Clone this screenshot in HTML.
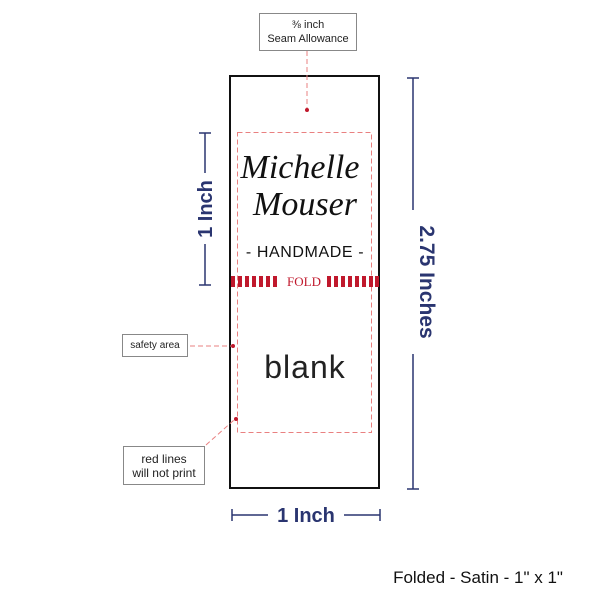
<!DOCTYPE html>
<html><head><style>
body{margin:0;width:600px;height:600px;background:#fff;overflow:hidden;position:relative;font-family:"Liberation Sans",sans-serif}
.a{position:absolute}
.box{position:absolute;border:1px solid #888;background:#fff;font-size:11px;color:#222;text-align:center;line-height:14px;box-sizing:border-box}
</style></head><body>
<svg class="a" style="left:0;top:0" width="600" height="600">
<rect x="230" y="76" width="149" height="412" fill="none" stroke="#111" stroke-width="2"/>
<rect x="237.5" y="132.5" width="134" height="300" fill="none" stroke="#e98080" stroke-width="1" stroke-dasharray="5,3"/>
<g fill="#c0182c">
<rect x="231" y="276" width="4" height="11"/><rect x="238" y="276" width="4" height="11"/><rect x="245" y="276" width="4" height="11"/><rect x="252" y="276" width="4" height="11"/><rect x="259" y="276" width="4" height="11"/><rect x="266" y="276" width="4" height="11"/><rect x="273" y="276" width="4" height="11"/>
<rect x="327" y="276" width="4" height="11"/><rect x="334" y="276" width="4" height="11"/><rect x="341" y="276" width="4" height="11"/><rect x="348" y="276" width="4" height="11"/><rect x="355" y="276" width="4" height="11"/><rect x="362" y="276" width="4" height="11"/><rect x="369" y="276" width="4" height="11"/><rect x="375" y="276" width="4" height="11"/>
</g>
<text x="304" y="286" font-family="Liberation Serif" font-size="13" fill="#c0182c" text-anchor="middle">FOLD</text>
<text x="300" y="178" font-family="Liberation Serif" font-style="italic" font-size="34" fill="#111" text-anchor="middle">Michelle</text>
<text x="305" y="215" font-family="Liberation Serif" font-style="italic" font-size="34" fill="#111" text-anchor="middle">Mouser</text>
<text x="305" y="257" font-size="16" fill="#111" text-anchor="middle" letter-spacing="0.6">- HANDMADE -</text>
<text x="305" y="378" font-size="32" fill="#222" text-anchor="middle" letter-spacing="1">blank</text>
<line x1="307" y1="51" x2="307" y2="110" stroke="#e98080" stroke-dasharray="5,3"/>
<circle cx="307" cy="110" r="2" fill="#c0182c"/>
<line x1="190" y1="346" x2="233" y2="346" stroke="#e98080" stroke-dasharray="5,3"/>
<circle cx="233" cy="346" r="2" fill="#c0182c"/>
<line x1="206" y1="445" x2="234" y2="420" stroke="#e98080" stroke-dasharray="5,3"/>
<circle cx="236" cy="419" r="2" fill="#c0182c"/>
<g stroke="#2a3570" stroke-width="1.5" fill="none">
<line x1="205" y1="133" x2="205" y2="173"/><line x1="199" y1="133" x2="211" y2="133"/>
<line x1="205" y1="244" x2="205" y2="285"/><line x1="199" y1="285" x2="211" y2="285"/>
<line x1="413" y1="78" x2="413" y2="210"/><line x1="407" y1="78" x2="419" y2="78"/>
<line x1="413" y1="354" x2="413" y2="489"/><line x1="407" y1="489" x2="419" y2="489"/>
<line x1="232" y1="515" x2="268" y2="515"/><line x1="232" y1="509" x2="232" y2="521"/>
<line x1="344" y1="515" x2="380" y2="515"/><line x1="380" y1="509" x2="380" y2="521"/>
</g>
<g fill="#2a3570" font-size="20" font-weight="bold">
<text transform="translate(212,209) rotate(-90)" text-anchor="middle">1 Inch</text>
<text transform="translate(420,282) rotate(90)" text-anchor="middle" font-size="21">2.75 Inches</text>
<text x="306" y="522" text-anchor="middle">1 Inch</text>
</g>
<text x="478" y="583" font-size="17" fill="#111" text-anchor="middle">Folded - Satin - 1" x 1"</text>
</svg>
<div class="box" style="left:259px;top:13px;width:98px;height:38px;padding-top:4px">⅜ inch<br>Seam Allowance</div>
<div class="box" style="left:122px;top:334px;width:66px;height:23px;padding-top:4px;font-size:10px">safety area</div>
<div class="box" style="left:123px;top:446px;width:82px;height:39px;padding-top:5px;font-size:12px">red lines<br>will not print</div>
</body></html>
